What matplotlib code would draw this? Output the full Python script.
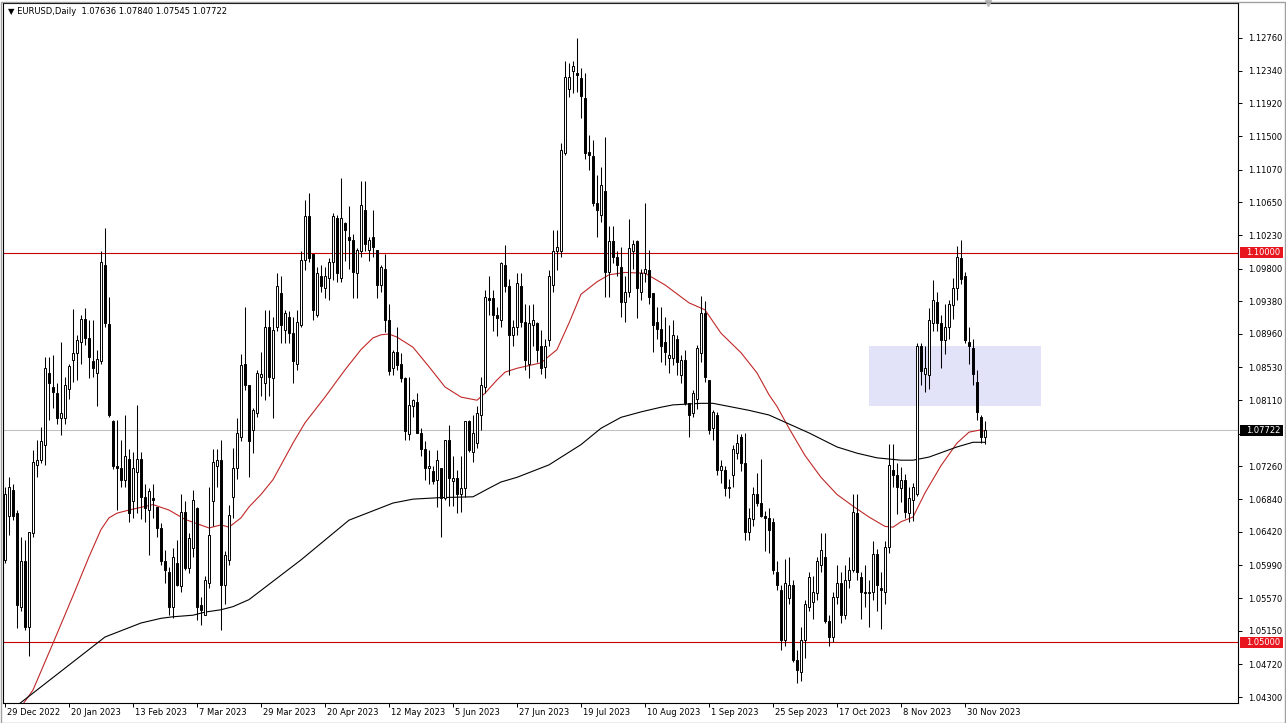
import matplotlib
matplotlib.use("Agg")
import matplotlib.pyplot as plt
import matplotlib.transforms as mtransforms
from matplotlib.patches import Rectangle
import numpy as np

# daily EURUSD candles (bar 0 = 29 Dec 2022)
opens = [1.0606, 1.0662, 1.0696, 1.0666, 1.0546, 1.0604, 1.0520, 1.0640, 1.0728, 1.0734,
         1.0754, 1.0846, 1.0828, 1.0820, 1.0788, 1.0788, 1.0826, 1.0863, 1.0871, 1.0886,
         1.0915, 1.0891, 1.0861, 1.0846, 1.0861, 1.0985, 1.0909, 1.0784, 1.0727, 1.0724,
         1.0709, 1.0736, 1.0681, 1.0719, 1.0736, 1.0687, 1.0670, 1.0685, 1.0674, 1.0647,
         1.0604, 1.0591, 1.0546, 1.0602, 1.0572, 1.0668, 1.0595, 1.0621, 1.0672, 1.0548,
         1.0535, 1.0576, 1.0681, 1.0726, 1.0734, 1.0574, 1.0606, 1.0687, 1.0724, 1.0764,
         1.0858, 1.0831, 1.0773, 1.0794, 1.0841, 1.0833, 1.0905, 1.0839, 1.0905, 1.0948,
         1.0901, 1.0918, 1.0897, 1.0858, 1.0908, 1.0991, 1.1047, 1.0999, 1.0920, 1.0970,
         1.0955, 1.0968, 1.0989, 1.1045, 1.0968, 1.1038, 1.1021, 1.1017, 1.0974, 1.1002,
         1.1055, 1.1004, 1.1021, 1.1004, 1.0959, 1.0980, 1.0914, 1.0852, 1.0873, 1.0858,
         1.0839, 1.0767, 1.0803, 1.0809, 1.0769, 1.0749, 1.0724, 1.0720, 1.0709, 1.0724,
         1.0685, 1.0760, 1.0707, 1.0711, 1.0691, 1.0698, 1.0784, 1.0745, 1.0756, 1.0792,
         1.0828, 1.0942, 1.0942, 1.0920, 1.0914, 1.0985, 1.0957, 1.0895, 1.0905, 1.0957,
         1.0912, 1.0858, 1.0908, 1.0910, 1.0880, 1.0854, 1.0888, 1.0959, 1.1002, 1.1002,
         1.1128, 1.1211, 1.1233, 1.1231, 1.1225, 1.1199, 1.1129, 1.1124, 1.1064, 1.1049,
         1.1079, 1.0976, 1.1016, 1.0995, 1.0982, 1.0937, 1.0950, 1.1002, 1.1015, 1.0950,
         1.0974, 1.0978, 1.0948, 1.0912, 1.0903, 1.0886, 1.0865, 1.0865, 1.0890, 1.0843,
         1.0863, 1.0807, 1.0794, 1.0813, 1.0871, 1.0923, 1.0837, 1.0775, 1.0792, 1.0721,
         1.0721, 1.0698, 1.0715, 1.0743, 1.0764, 1.0730, 1.0642, 1.0658, 1.0690, 1.0679,
         1.0662, 1.0660, 1.0655, 1.0591, 1.0567, 1.0503, 1.0557, 1.0574, 1.0477, 1.0462,
         1.0503, 1.0546, 1.0552, 1.0563, 1.0599, 1.0610, 1.0527, 1.0507, 1.0559, 1.0576,
         1.0535, 1.0580, 1.0593, 1.0666, 1.0584, 1.0565, 1.0563, 1.0565, 1.0614, 1.0570,
         1.0565, 1.0623, 1.0721, 1.0715, 1.0698, 1.0708, 1.0666, 1.0683, 1.0691, 1.0880,
         1.0845, 1.0843, 1.0910, 1.0937, 1.0910, 1.0888, 1.0905, 1.0933, 1.0955, 1.0993,
         1.0970, 1.0886, 1.0878, 1.0835, 1.0790, 1.07636]
highs = [1.0700, 1.0713, 1.0704, 1.0670, 1.0636, 1.0632, 1.0642, 1.0747, 1.0760, 1.0777,
         1.0867, 1.0867, 1.0869, 1.0833, 1.0886, 1.0841, 1.0858, 1.0928, 1.0895, 1.0920,
         1.0929, 1.0914, 1.0914, 1.0876, 1.1002, 1.1032, 1.0943, 1.0786, 1.0786, 1.0760,
         1.0792, 1.0749, 1.0745, 1.0805, 1.0745, 1.0704, 1.0698, 1.0704, 1.0674, 1.0653,
         1.0619, 1.0597, 1.0621, 1.0632, 1.0691, 1.0681, 1.0640, 1.0696, 1.0674, 1.0559,
         1.0585, 1.0700, 1.0749, 1.0749, 1.0760, 1.0617, 1.0676, 1.0750, 1.0788, 1.0870,
         1.0931, 1.0831, 1.0801, 1.0850, 1.0873, 1.0927, 1.0927, 1.0918, 1.0974, 1.0970,
         1.0927, 1.0925, 1.0918, 1.0927, 1.1002, 1.1068, 1.1077, 1.0999, 1.0982, 1.0985,
         1.0982, 1.0993, 1.1051, 1.1049, 1.1096, 1.1040, 1.1060, 1.1025, 1.1006, 1.1092,
         1.1092, 1.1021, 1.1055, 1.1004, 1.0985, 1.0999, 1.0935, 1.0875, 1.0905, 1.0871,
         1.0841, 1.0841, 1.0813, 1.0820, 1.0775, 1.0758, 1.0747, 1.0726, 1.0747, 1.0724,
         1.0760, 1.0779, 1.0739, 1.0722, 1.0739, 1.0784, 1.0786, 1.0792, 1.0803, 1.0841,
         1.0952, 1.0970, 1.0952, 1.0931, 1.0989, 1.1010, 1.0967, 1.0914, 1.0974, 1.0974,
         1.0935, 1.0933, 1.0935, 1.0912, 1.0901, 1.0890, 1.0978, 1.1030, 1.1030, 1.1141,
         1.1246, 1.1244, 1.1246, 1.1276, 1.1237, 1.1231, 1.1151, 1.1145, 1.1100, 1.1111,
         1.1149, 1.1034, 1.1034, 1.1002, 1.1008, 1.0970, 1.1043, 1.1017, 1.1017, 1.0980,
         1.1064, 1.1004, 1.0948, 1.0931, 1.0931, 1.0918, 1.0908, 1.0914, 1.0895, 1.0869,
         1.0875, 1.0807, 1.0824, 1.0882, 1.0945, 1.0938, 1.0837, 1.0798, 1.0796, 1.0734,
         1.0726, 1.0710, 1.0753, 1.0768, 1.0768, 1.0769, 1.0673, 1.0700, 1.0718, 1.0736,
         1.0669, 1.0673, 1.0660, 1.0605, 1.0574, 1.0607, 1.0610, 1.0580, 1.0490, 1.0520,
         1.0555, 1.0590, 1.0585, 1.0610, 1.0640, 1.0640, 1.0535, 1.0565, 1.0600, 1.0590,
         1.0600, 1.0610, 1.0690, 1.0690, 1.0590, 1.0600, 1.0580, 1.0630, 1.0620, 1.0590,
         1.0630, 1.0755, 1.0755, 1.0730, 1.0725, 1.0716, 1.0700, 1.0705, 1.0885, 1.0885,
         1.0880, 1.0930, 1.0965, 1.0950, 1.0920, 1.0935, 1.0940, 1.0968, 1.1009, 1.1017,
         1.0975, 1.0905, 1.0890, 1.0850, 1.0792, 1.07840]
lows = [1.0602, 1.0638, 1.0657, 1.0518, 1.0540, 1.0516, 1.0482, 1.0636, 1.0713, 1.0730,
        1.0728, 1.0786, 1.0801, 1.0781, 1.0766, 1.0781, 1.0813, 1.0835, 1.0837, 1.0858,
        1.0882, 1.0839, 1.0841, 1.0803, 1.0858, 1.0905, 1.0790, 1.0723, 1.0670, 1.0700,
        1.0700, 1.0655, 1.0660, 1.0666, 1.0659, 1.0655, 1.0612, 1.0660, 1.0636, 1.0599,
        1.0576, 1.0535, 1.0531, 1.0572, 1.0565, 1.0593, 1.0589, 1.0610, 1.0529, 1.0522,
        1.0535, 1.0570, 1.0649, 1.0700, 1.0516, 1.0550, 1.0600, 1.0660, 1.0710, 1.0758,
        1.0824, 1.0713, 1.0743, 1.0790, 1.0816, 1.0811, 1.0816, 1.0788, 1.0900, 1.0884,
        1.0884, 1.0884, 1.0833, 1.0850, 1.0905, 1.0978, 1.0989, 1.0914, 1.0918, 1.0950,
        1.0942, 1.0940, 1.0965, 1.0963, 1.0963, 1.0990, 1.0980, 1.0942, 1.0942, 1.0995,
        1.1002, 1.0990, 1.0995, 1.0942, 1.0950, 1.0899, 1.0844, 1.0844, 1.0850, 1.0835,
        1.0760, 1.0760, 1.0790, 1.0769, 1.0739, 1.0709, 1.0704, 1.0704, 1.0674, 1.0636,
        1.0683, 1.0675, 1.0675, 1.0666, 1.0668, 1.0687, 1.0745, 1.0732, 1.0750, 1.0773,
        1.0820, 1.0920, 1.0900, 1.0893, 1.0905, 1.0950, 1.0844, 1.0880, 1.0895, 1.0905,
        1.0850, 1.0839, 1.0880, 1.0860, 1.0845, 1.0839, 1.0880, 1.0950, 1.0978, 1.0995,
        1.1126, 1.1200, 1.1205, 1.1207, 1.1173, 1.1120, 1.1106, 1.1060, 1.1021, 1.1040,
        1.0944, 1.0944, 1.0987, 1.0970, 1.0918, 1.0912, 1.0944, 1.0980, 1.0916, 1.0940,
        1.0963, 1.0935, 1.0873, 1.0890, 1.0860, 1.0856, 1.0846, 1.0856, 1.0843, 1.0833,
        1.0805, 1.0764, 1.0790, 1.0800, 1.0860, 1.0835, 1.0768, 1.0760, 1.0715, 1.0705,
        1.0688, 1.0685, 1.0700, 1.0735, 1.0720, 1.0632, 1.0632, 1.0650, 1.0675, 1.0661,
        1.0617, 1.0615, 1.0588, 1.0567, 1.0490, 1.0495, 1.0550, 1.0475, 1.0448, 1.0450,
        1.0480, 1.0540, 1.0530, 1.0555, 1.0590, 1.0525, 1.0495, 1.0500, 1.0550, 1.0525,
        1.0530, 1.0570, 1.0590, 1.0580, 1.0530, 1.0545, 1.0520, 1.0555, 1.0540, 1.0517,
        1.0550, 1.0615, 1.0700, 1.0665, 1.0680, 1.0660, 1.0655, 1.0656, 1.0688, 1.0830,
        1.0822, 1.0825, 1.0900, 1.0900, 1.0852, 1.0870, 1.0890, 1.0915, 1.0940, 1.0960,
        1.0885, 1.0858, 1.0831, 1.0785, 1.0756, 1.07545]
closes = [1.0691, 1.0700, 1.0662, 1.0548, 1.0604, 1.0520, 1.0642, 1.0732, 1.0734, 1.0758,
          1.0852, 1.0833, 1.0822, 1.0788, 1.0795, 1.0831, 1.0855, 1.0871, 1.0888, 1.0915,
          1.0891, 1.0867, 1.0852, 1.0864, 1.0989, 1.0910, 1.0792, 1.0726, 1.0724, 1.0709,
          1.0739, 1.0666, 1.0724, 1.0736, 1.0687, 1.0672, 1.0694, 1.0683, 1.0647, 1.0604,
          1.0593, 1.0546, 1.0610, 1.0574, 1.0668, 1.0595, 1.0634, 1.0683, 1.0546, 1.0542,
          1.0580, 1.0638, 1.0732, 1.0734, 1.0574, 1.0612, 1.0664, 1.0724, 1.0769, 1.0856,
          1.0831, 1.0758, 1.0799, 1.0846, 1.0845, 1.0905, 1.0841, 1.0901, 1.0957, 1.0908,
          1.0923, 1.0897, 1.0861, 1.0912, 1.0991, 1.1047, 1.0993, 1.0927, 1.0974, 1.0957,
          1.0970, 1.0989, 1.1047, 1.0974, 1.1045, 1.1030, 1.1017, 1.0976, 1.1004, 1.1062,
          1.1012, 1.1017, 1.1008, 1.0959, 1.0982, 1.0914, 1.0848, 1.0873, 1.0856, 1.0839,
          1.0771, 1.0805, 1.0811, 1.0769, 1.0749, 1.0724, 1.0726, 1.0707, 1.0734, 1.0685,
          1.0760, 1.0711, 1.0711, 1.0691, 1.0698, 1.0784, 1.0747, 1.0769, 1.0794, 1.0831,
          1.0944, 1.0940, 1.0920, 1.0916, 1.0987, 1.0957, 1.0895, 1.0905, 1.0961, 1.0912,
          1.0863, 1.0910, 1.0914, 1.0875, 1.0852, 1.0880, 1.0970, 1.1002, 1.1008, 1.1132,
          1.1226, 1.1226, 1.1240, 1.1229, 1.1201, 1.1128, 1.1126, 1.1064, 1.1055, 1.1087,
          1.0976, 1.1015, 1.0995, 1.0985, 1.0937, 1.0950, 1.1006, 1.1012, 1.0955, 1.0974,
          1.0980, 1.0944, 1.0908, 1.0903, 1.0880, 1.0873, 1.0869, 1.0895, 1.0860, 1.0863,
          1.0807, 1.0792, 1.0820, 1.0878, 1.0923, 1.0841, 1.0773, 1.0796, 1.0721, 1.0726,
          1.0698, 1.0700, 1.0749, 1.0756, 1.0730, 1.0642, 1.0660, 1.0690, 1.0679, 1.0662,
          1.0660, 1.0644, 1.0593, 1.0574, 1.0503, 1.0576, 1.0574, 1.0477, 1.0465, 1.0503,
          1.0550, 1.0584, 1.0565, 1.0604, 1.0619, 1.0527, 1.0507, 1.0559, 1.0576, 1.0535,
          1.0580, 1.0593, 1.0668, 1.0591, 1.0565, 1.0563, 1.0565, 1.0614, 1.0574, 1.0567,
          1.0623, 1.0728, 1.0715, 1.0700, 1.0708, 1.0668, 1.0685, 1.0700, 1.0880, 1.0848,
          1.0852, 1.0914, 1.0940, 1.0910, 1.0888, 1.0905, 1.0935, 1.0955, 1.0995, 1.0967,
          1.0888, 1.0880, 1.0845, 1.0796, 1.0764, 1.07722]

# moving averages (bar index, price)
red_ma_bars = [0, 7, 12, 17, 21, 24, 26, 28, 31, 37, 41, 45, 51, 54, 56, 59, 61, 64, 67, 72,
               75, 80, 85, 89, 92, 94, 96, 98, 102, 106, 110, 114, 118, 120, 123, 125, 128,
               134, 138, 141, 144, 148, 151, 155, 160, 165, 171, 175, 179, 184, 188, 191,
               193, 196, 200, 204, 208, 212, 216, 220, 222, 224, 227, 230, 234, 238, 241,
               244, 245]
red_ma = [1.0388, 1.0439, 1.0499, 1.0560, 1.0610, 1.0645, 1.0660, 1.0666, 1.0670, 1.0677,
          1.0670, 1.0658, 1.0647, 1.0651, 1.0648, 1.0660, 1.0674, 1.0690, 1.0709, 1.0756,
          1.0782, 1.0815, 1.0850, 1.0876, 1.0891, 1.0895, 1.0896, 1.0892, 1.0879, 1.0854,
          1.0828, 1.0815, 1.0811, 1.0820, 1.0837, 1.0847, 1.0852, 1.0859, 1.0876, 1.0910,
          1.0947, 1.0963, 1.0972, 1.0975, 1.0974, 1.0959, 1.0936, 1.0927, 1.0897, 1.0872,
          1.0846, 1.0818, 1.0803, 1.0775, 1.0740, 1.0712, 1.0690, 1.0675, 1.0661, 1.0649,
          1.0648, 1.0655, 1.0661, 1.0692, 1.0727, 1.0756, 1.0770, 1.0773, 1.0771]
black_ma_bars = [0, 8, 25, 31, 34, 39, 42, 47, 50, 54, 57, 61, 74, 86, 94, 97, 102, 109, 117,
                 121, 124, 128, 136, 144, 149, 154, 159, 164, 167, 174, 177, 182, 186, 191,
                 201, 208, 213, 218, 224, 227, 231, 238, 242, 245]
black_ma = [1.0407, 1.0439, 1.0507, 1.0519, 1.0525, 1.0531, 1.0533, 1.0535, 1.0539, 1.0542,
            1.0546, 1.0555, 1.0606, 1.0657, 1.0673, 1.0679, 1.0684, 1.0686, 1.0687, 1.0698,
            1.0706, 1.0712, 1.0728, 1.0754, 1.0775, 1.0789, 1.0796, 1.0802, 1.0805, 1.0807,
            1.0807, 1.0802, 1.0798, 1.0792, 1.0769, 1.0751, 1.0743, 1.0737, 1.0734, 1.0734,
            1.0738, 1.0751, 1.0757, 1.0757]

price_ticks = [1.04300, 1.04720, 1.05150, 1.05570, 1.05990, 1.06420, 1.06840, 1.07260,
               1.07680, 1.08110, 1.08530, 1.08960, 1.09380, 1.09800, 1.10230, 1.10650,
               1.11070, 1.11500, 1.11920, 1.12340, 1.12760]
date_bars = [0, 16, 32, 48, 64, 80, 96, 112, 128, 144, 160, 176, 192, 208, 224, 240]
date_labels = ["29 Dec 2022", "20 Jan 2023", "13 Feb 2023", "7 Mar 2023", "29 Mar 2023",
               "20 Apr 2023", "12 May 2023", "5 Jun 2023", "27 Jun 2023", "19 Jul 2023",
               "10 Aug 2023", "1 Sep 2023", "25 Sep 2023", "17 Oct 2023", "8 Nov 2023",
               "30 Nov 2023"]
levels = [1.10000, 1.05000]
last_price = 1.07722
zone_bars = [216, 259]
zone_prices = [1.0804, 1.0881]

W, H = 1286, 723
plt.rcParams["font.family"] = ["DejaVu Sans"]
fig = plt.figure(figsize=(W / 100, H / 100), dpi=100)
fig.patch.set_facecolor("white")
ax = fig.add_axes([3 / W, 20 / H, 1235 / W, 700 / H])

o = np.array(opens)
h = np.array(highs)
l = np.array(lows)
c = np.array(closes)
x = np.arange(len(o))
bull = c >= o

ax.add_patch(Rectangle((zone_bars[0], zone_prices[0]), zone_bars[1] - zone_bars[0],
                       zone_prices[1] - zone_prices[0], facecolor="#e2e2f8",
                       edgecolor="none", zorder=0))
for lv in levels:
    ax.axhline(lv, color="#c80000", lw=0.8, zorder=1)
ax.axhline(last_price, color="#c0c0c0", lw=0.75, zorder=1)

ax.plot(red_ma_bars, red_ma, color="#c02828", lw=0.8, zorder=2)
ax.plot(black_ma_bars, black_ma, color="black", lw=0.8, zorder=2)

ax.vlines(x, l, h, color="black", lw=0.75, zorder=3)
bottom = np.minimum(o, c)
height = np.maximum(np.abs(c - o), 0.00004)
ax.bar(x[bull], height[bull], bottom=bottom[bull], width=0.55, facecolor="white",
       edgecolor="black", lw=0.7, zorder=4)
ax.bar(x[~bull], height[~bull], bottom=bottom[~bull], width=0.55, facecolor="black",
       edgecolor="black", lw=0.7, zorder=4)

ax.set_xlim(-0.5, 308.25)
ax.set_ylim(1.04223, 1.13209)
for s in ax.spines.values():
    s.set_color("black")
    s.set_linewidth(0.8)

# the 1.07680 label sits under the last-price tag, as in MT4
ax.yaxis.tick_right()
ax.set_yticks(price_ticks)
ax.set_yticklabels(["" if abs(p - last_price) < 0.001 else "%.5f" % p for p in price_ticks],
                   fontsize=6)
ax.tick_params(axis="y", length=3, width=0.7, pad=4, colors="black")

ax.set_xticks(date_bars)
ax.set_xticklabels(date_labels, fontsize=6)
ax.tick_params(axis="x", length=3, width=0.7, pad=0.5, colors="black")
offset = mtransforms.ScaledTranslation(2 / 100, 0, fig.dpi_scale_trans)
for lbl in ax.get_xticklabels():
    lbl.set_ha("left")
    lbl.set_transform(lbl.get_transform() + offset)

# price tags on the right scale
tr = mtransforms.blended_transform_factory(fig.transFigure, ax.transData)
tag_h = 11 / 7790
for p, col in [(levels[0], "#e8171f"), (levels[1], "#e8171f"), (last_price, "black")]:
    ax.add_patch(Rectangle((1240 / W, p - tag_h / 2), 43 / W, tag_h, transform=tr,
                           facecolor=col, edgecolor="none", clip_on=False, zorder=10))
    ax.text(1246 / W, p, "%.5f" % p, transform=tr, color="white", fontsize=6,
            va="center", ha="left", zorder=11, clip_on=False)

# chart header and shift marker
fig.text(8 / W, 1 - 12 / H, "\u25bc EURUSD,Daily  1.07636 1.07840 1.07545 1.07722",
         fontsize=6, va="center", ha="left", color="black")
ax.plot([245.75], [1.13209], marker="v", markersize=5, color="#b8b8b8",
        clip_on=False, zorder=12)

fig.patches.append(Rectangle((0.5 / W, 0.5 / H), 1 - 2 / W, 1 - 2 / H,
                             transform=fig.transFigure, fill=False,
                             edgecolor="#a0a0a0", lw=1))

fig.savefig("out.png", dpi=100)
